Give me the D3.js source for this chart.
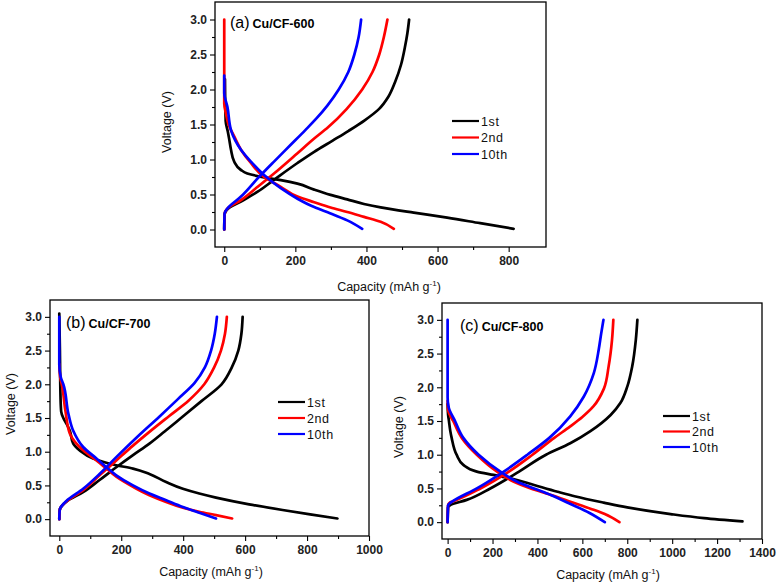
<!DOCTYPE html>
<html><head><meta charset="utf-8">
<script src="https://cdn.jsdelivr.net/npm/d3@7"></script>
<style>body{margin:0;background:#fff}svg{display:block}</style>
</head><body>
<svg id="c" width="778" height="583"></svg>
<script>
// ---------- data (capacity mAh/g, voltage V) ----------
const cycles = ["1st", "2nd", "10th"];
const titles = ["Cu/CF-600", "Cu/CF-700", "Cu/CF-800"];
const letters = ["(a)", "(b)", "(c)"];
const yTicks = [0, 0.5, 1.0, 1.5, 2.0, 2.5, 3.0];
const xTicksA = [0, 200, 400, 600, 800];
const xTicksB = [0, 200, 400, 600, 800, 1000];
const xTicksC = [0, 200, 400, 600, 800, 1000, 1200, 1400];

// Panel (a) Cu/CF-600
const a1Charge = [[0,0],[1,0.22],[9,0.29],[47,0.40],[94,0.54],[140,0.71],[206,0.95],[253,1.11],[305,1.27],[350,1.41],[395,1.56],[435,1.72],[462,1.9],[480,2.1],[497,2.35],[508,2.6],[515,2.8],[520,3.0]];
const a2Charge = [[0,0],[1,0.22],[9,0.3],[47,0.42],[94,0.61],[140,0.8],[206,1.09],[253,1.30],[292,1.46],[344,1.72],[388,2.0],[417,2.25],[436,2.5],[449,2.75],[459,3.0]];
const a10Charge = [[0,0],[1,0.23],[9,0.3],[47,0.47],[94,0.73],[140,0.97],[187,1.21],[228,1.42],[260,1.59],[290,1.77],[322,2.0],[349,2.25],[366,2.5],[378,2.75],[385,3.0]];
const a1Dis = [[2,2.15],[4,1.55],[10,1.4],[14,1.29],[19,1.14],[28,0.97],[47,0.85],[65,0.8],[112,0.745],[159,0.705],[206,0.655],[253,0.57],[299,0.495],[346,0.43],[393,0.365],[440,0.315],[533,0.24],[627,0.17],[720,0.09],[814,0.01]];
const a2Dis = [[0,3.0],[0,1.8],[5,1.65],[12,1.5],[28,1.33],[47,1.14],[75,0.95],[112,0.75],[159,0.61],[206,0.47],[253,0.39],[299,0.315],[346,0.25],[393,0.18],[440,0.11],[477,0.01]];
const a10Dis = [[0,2.2],[0,1.95],[9,1.75],[19,1.42],[47,1.14],[75,0.97],[112,0.78],[159,0.59],[206,0.44],[253,0.32],[299,0.23],[346,0.13],[388,0.01]];

// Panel (b) Cu/CF-700
const b1Charge = [[0,0],[1,0.12],[3,0.16],[23,0.26],[77,0.40],[130,0.58],[184,0.77],[238,0.95],[291,1.12],[340,1.3],[393,1.5],[459,1.75],[524,2.0],[557,2.25],[578,2.5],[588,2.75],[592,3.0]];
const b2Charge = [[0,0],[1,0.12],[3,0.16],[23,0.26],[77,0.43],[130,0.65],[184,0.87],[238,1.09],[290,1.29],[355,1.53],[418,1.76],[468,2.0],[500,2.25],[522,2.5],[535,2.75],[541,3.0]];
const b10Charge = [[0,0],[1,0.12],[3,0.16],[23,0.27],[77,0.45],[130,0.67],[184,0.92],[254,1.23],[323,1.52],[383,1.78],[437,2.02],[470,2.25],[490,2.5],[502,2.75],[509,3.0]];
const b1Dis = [[0,3.05],[2,2.5],[4,1.8],[6,1.6],[13,1.5],[25,1.4],[34,1.31],[45,1.12],[66,1.02],[109,0.90],[184,0.80],[238,0.75],[291,0.67],[345,0.55],[399,0.45],[452,0.38],[506,0.32],[613,0.22],[721,0.135],[810,0.07],[898,0.01]];
const b2Dis = [[0,2.3],[3,2.1],[8,2.0],[20,1.6],[34,1.27],[77,1.02],[120,0.87],[152,0.75],[184,0.63],[238,0.48],[291,0.355],[345,0.256],[399,0.17],[452,0.11],[506,0.06],[558,0.01]];
const b10Dis = [[0,3.0],[0,2.3],[5,2.1],[13,2.0],[30,1.55],[45,1.31],[77,1.07],[120,0.90],[152,0.77],[184,0.65],[238,0.50],[291,0.38],[345,0.28],[399,0.18],[452,0.094],[506,0.01]];

// Panel (c) Cu/CF-800
const c1Charge = [[0,0],[2,0.22],[10,0.25],[85,0.33],[190,0.5],[318,0.75],[438,1.0],[546,1.17],[636,1.35],[726,1.59],[770,1.77],[800,2.01],[822,2.31],[838,2.7],[845,3.0]];
const c2Charge = [[0,0],[2,0.25],[10,0.29],[18,0.3],[146,0.5],[273,0.75],[378,1.0],[475,1.25],[546,1.42],[600,1.56],[650,1.72],[696,1.98],[717,2.31],[732,2.7],[738,3.0]];
const c10Charge = [[0,0],[2,0.25],[10,0.28],[18,0.3],[130,0.5],[250,0.75],[355,1.0],[453,1.25],[546,1.57],[606,1.86],[651,2.21],[673,2.56],[684,2.8],[694,3.0]];
const c1Dis = [[0,1.75],[2,1.6],[6,1.5],[12,1.35],[18,1.25],[40,1.0],[70,0.85],[130,0.75],[205,0.7],[280,0.65],[385,0.55],[490,0.45],[570,0.38],[695,0.29],[800,0.22],[993,0.12],[1142,0.06],[1313,0.01]];
const c2Dis = [[0,1.8],[3,1.65],[25,1.5],[63,1.25],[130,1.0],[220,0.75],[295,0.6],[370,0.5],[465,0.4],[550,0.3],[636,0.2],[700,0.12],[765,0.0]];
const c10Dis = [[0,3.0],[0,1.85],[5,1.7],[33,1.5],[70,1.25],[138,1.0],[235,0.75],[310,0.6],[385,0.5],[462,0.4],[540,0.28],[630,0.14],[700,0.0]];

const colors = ["#000000", "#ff0000", "#0000ff"];

// ---------- layout ----------
const panels = [
  {box:[215,546,2,247], xd:[-26,905], xt:xTicksA, xmax:900, charge:[a1Charge,a2Charge,a10Charge], dis:[a1Dis,a2Dis,a10Dis],
   title:[230,28], legend:[452,121,16.5], xlab:[389,291], ylab:[167,122]},
  {box:[50,369,300,536], xd:[-30,1000], xt:xTicksB, xmax:1000, charge:[b1Charge,b2Charge,b10Charge], dis:[b1Dis,b2Dis,b10Dis],
   title:[66,328], legend:[278,402,16], xlab:[211,576], ylab:[11,404]},
  {box:[442,762,303,539], xd:[-25,1400], xt:xTicksC, xmax:1400, charge:[c1Charge,c2Charge,c10Charge], dis:[c1Dis,c2Dis,c10Dis],
   title:[460,331], legend:[663,416,15.5], xlab:[608,579], ylab:[399,427]}
];

const svg = d3.select("#c");
svg.append("rect").attr("width",778).attr("height",583).attr("fill","#fff");
const FONT = "'Liberation Sans', Arial, sans-serif";

panels.forEach((p, i) => {
  const [L,R,T,B] = p.box;
  const x = d3.scaleLinear().domain(p.xd).range([L,R]);
  const y = d3.scaleLinear().domain([-0.25,3.25]).range([B,T]);
  const g = svg.append("g");

  // minor ticks
  const xMinor = d3.range(100, p.xmax, 200).filter(v => v < p.xd[1]);
  const yMinor = d3.range(0.25, 3.0, 0.5);
  g.append("g").attr("transform",`translate(0,${B})`)
    .call(d3.axisBottom(x).tickValues(xMinor).tickSize(3).tickFormat(""))
    .call(s => s.select(".domain").remove());
  g.append("g").attr("transform",`translate(${L},0)`)
    .call(d3.axisLeft(y).tickValues(yMinor).tickSize(3).tickFormat(""))
    .call(s => s.select(".domain").remove());

  // major axes
  const xa = g.append("g").attr("transform",`translate(0,${B})`)
    .call(d3.axisBottom(x).tickValues(p.xt).tickSize(5).tickPadding(4).tickFormat(d3.format("d")));
  const ya = g.append("g").attr("transform",`translate(${L},0)`)
    .call(d3.axisLeft(y).tickValues(yTicks).tickSize(5).tickPadding(3).tickFormat(d3.format(".1f")));
  [xa, ya].forEach(a => {
    a.select(".domain").remove();
    a.selectAll("text").attr("font-family",FONT).attr("font-weight","bold").attr("font-size",12).attr("fill","#222");
  });
  g.selectAll(".tick line").attr("stroke","#000").attr("stroke-width",1.1);

  // frame
  g.append("rect").attr("x",L).attr("y",T).attr("width",R-L).attr("height",B-T)
    .attr("fill","none").attr("stroke","#000").attr("stroke-width",1.3);

  // curves (capacity is monotone in voltage -> monotone-in-y interpolation)
  const line = d3.line().x(d => x(d[0])).y(d => y(d[1])).curve(d3.curveMonotoneY);
  const byV = arr => arr.slice().sort((u, v) => u[1] - v[1]);
  [0,1,2].forEach(k => {
    [p.dis[k], p.charge[k]].forEach(data => {
      g.append("path").datum(byV(data)).attr("d", line)
        .attr("fill","none").attr("stroke",colors[k]).attr("stroke-width",2.7)
        .attr("stroke-linejoin","round").attr("stroke-linecap","round");
    });
  });

  // title
  const t = g.append("text").attr("x",p.title[0]).attr("y",p.title[1]).attr("font-family",FONT);
  t.append("tspan").attr("font-size",16).text(letters[i]);
  t.append("tspan").attr("dx",3).attr("font-size",12.5).attr("font-weight","bold").text(titles[i]);

  // legend
  const [lx, ly, ld] = p.legend;
  cycles.forEach((c, k) => {
    g.append("line").attr("x1",lx).attr("x2",lx+27).attr("y1",ly+k*ld).attr("y2",ly+k*ld)
      .attr("stroke",colors[k]).attr("stroke-width",2.2);
    g.append("text").attr("x",lx+29).attr("y",ly+k*ld+4.5).attr("font-family",FONT)
      .attr("font-size",12.5).attr("letter-spacing",0.6).attr("fill","#111").text(c);
  });

  // axis labels
  const xl = g.append("text").attr("x",p.xlab[0]).attr("y",p.xlab[1]).attr("text-anchor","middle")
    .attr("font-family",FONT).attr("font-size",12.5).attr("fill","#111");
  xl.append("tspan").text("Capacity (mAh g");
  xl.append("tspan").attr("dy",-5).attr("font-size",8).text("-1");
  xl.append("tspan").attr("dy",5).text(")");
  g.append("text").attr("transform",`translate(${p.ylab[0]},${p.ylab[1]}) rotate(-90)`)
    .attr("text-anchor","middle").attr("dy","0.35em").attr("font-family",FONT).attr("font-size",12.5).attr("fill","#111")
    .text("Voltage (V)");
});
</script>
</body></html>
